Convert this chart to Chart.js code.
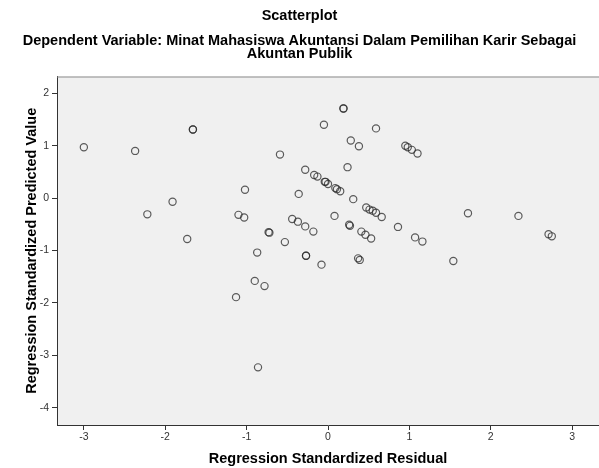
<!DOCTYPE html>
<html>
<head>
<meta charset="utf-8">
<script src="https://cdn.jsdelivr.net/npm/chart.js@4"></script>
<style>
  html, body { margin: 0; padding: 0; background: #fff; overflow: hidden; }
  #wrap { width: 599px; height: 468px; }
</style>
</head>
<body>
<div id="wrap"><canvas id="scatter"></canvas></div>
<script>
// residual (x) vs predicted (y)
const residuals = [
    -3.00, -2.37, -1.66, -1.66, -1.91, -2.22, -1.73, -1.10, -1.03, -1.02,
    0.19, 0.19, -0.05, 0.59, 0.28, 0.38, 0.95, 0.98, 1.03, 1.10,
    -0.59, 0.24, -0.28, -0.17, -0.13, -0.04, -0.03, 0.00, 0.09, 0.11,
    0.15, -0.36, 0.31, 0.47, 0.51, 0.55, 0.59, 0.66, 0.08, -0.44,
    -0.37, -0.28, -0.18, 0.86, 0.26, 0.27, -0.73, -0.72, 0.41, 0.46,
    0.53, -0.53, -0.87, -0.27, -0.27, -0.08, 0.37, 0.39, -0.90, -0.78,
    -1.13, -0.86, 1.72, 2.34, 2.71, 2.75, 1.07, 1.16, 1.54
];
const predicted = [
    0.97, 0.90, 1.31, 1.31, -0.07, -0.31, -0.78, -0.32, -0.37, 0.16,
    1.71, 1.71, 1.40, 1.33, 1.10, 0.99, 1.00, 0.97, 0.92, 0.85,
    0.83, 0.59, 0.54, 0.44, 0.41, 0.31, 0.31, 0.27, 0.19, 0.17,
    0.13, 0.08, -0.02, -0.18, -0.22, -0.24, -0.28, -0.36, -0.34, -0.40,
    -0.45, -0.54, -0.64, -0.55, -0.51, -0.53, -0.65, -0.66, -0.64, -0.70,
    -0.77, -0.84, -1.04, -1.10, -1.10, -1.27, -1.15, -1.18, -1.58, -1.68,
    -1.89, -3.23, -0.29, -0.34, -0.69, -0.73, -0.75, -0.83, -1.20
];
const xTicks = [-3, -2, -1, 0, 1, 2, 3];
const yTicks = [2, 1, 0, -1, -2, -3, -4];

const FONT = '"Liberation Sans", Arial, sans-serif';

// grey plot background + frame line on top
const plotFrame = {
    id: 'plotFrame',
    beforeDraw(chart) {
        const a = chart.chartArea;
        const ctx = chart.ctx;
        ctx.save();
        ctx.fillStyle = '#f0f0f0';
        ctx.fillRect(a.left, a.top, a.right - a.left, a.bottom - a.top);
        ctx.restore();
    },
    afterDraw(chart) {
        const a = chart.chartArea;
        const ctx = chart.ctx;
        ctx.save();
        ctx.strokeStyle = '#8a8a8a';
        ctx.lineWidth = 1;
        ctx.beginPath();
        ctx.moveTo(a.left, a.top + 0.5);
        ctx.lineTo(a.right, a.top + 0.5);
        ctx.stroke();
        ctx.restore();
    }
};

const points = residuals.map((x, i) => ({ x: x, y: predicted[i] }));

new Chart(document.getElementById('scatter'), {
    type: 'scatter',
    data: {
        datasets: [{
            data: points,
            pointStyle: 'circle',
            pointRadius: 3.6,
            pointHoverRadius: 3.6,
            pointBorderWidth: 1.2,
            pointBorderColor: 'rgba(40,40,40,0.75)',
            pointBackgroundColor: 'rgba(0,0,0,0)'
        }]
    },
    options: {
        responsive: true,
        maintainAspectRatio: false,
        animation: false,
        layout: { padding: 0, autoPadding: false },
        plugins: {
            legend: { display: false },
            tooltip: { enabled: false },
            title: {
                display: true,
                text: 'Scatterplot',
                color: '#000',
                font: { family: FONT, size: 14.5, weight: 'bold', lineHeight: 1.2 },
                padding: { top: 7, bottom: 10 }
            },
            subtitle: {
                display: true,
                text: ['Dependent Variable: Minat Mahasiswa Akuntansi Dalam Pemilihan Karir Sebagai', 'Akuntan Publik'],
                color: '#000',
                font: { family: FONT, size: 14.5, weight: 'bold', lineHeight: 0.9 },
                padding: { top: 0, bottom: 16 }
            }
        },
        scales: {
            x: {
                type: 'linear',
                min: -3.33,
                max: 3.33,
                afterBuildTicks: s => { s.ticks = xTicks.map(v => ({ value: v })); },
                afterFit: s => { s.height = 43; s.paddingLeft = 0; s.paddingRight = 0; },
                border: { display: true, color: '#333', width: 1 },
                grid: { drawOnChartArea: false, drawTicks: true, tickLength: 5, color: '#333' },
                ticks: { color: '#333', font: { family: FONT, size: 10.5 }, padding: 1, maxRotation: 0 },
                title: {
                    display: true,
                    text: 'Regression Standardized Residual',
                    color: '#000',
                    font: { family: FONT, size: 14.5, weight: 'bold' },
                    padding: { top: 4, bottom: 0 }
                }
            },
            y: {
                type: 'linear',
                min: -4.33,
                max: 2.32,
                afterBuildTicks: s => { s.ticks = yTicks.map(v => ({ value: v })); },
                afterFit: s => { s.width = 57; s.paddingTop = 0; s.paddingBottom = 0; },
                border: { display: true, color: '#333', width: 1 },
                grid: { drawOnChartArea: false, drawTicks: true, tickLength: 5, color: '#333' },
                ticks: { color: '#333', font: { family: FONT, size: 10.5 }, padding: 3 },
                title: {
                    display: true,
                    text: 'Regression Standardized Predicted Value',
                    color: '#000',
                    font: { family: FONT, size: 14.5, weight: 'bold' },
                    padding: { top: 23, bottom: 0 }
                }
            }
        }
    },
    plugins: [plotFrame]
});
</script>
</body>
</html>
